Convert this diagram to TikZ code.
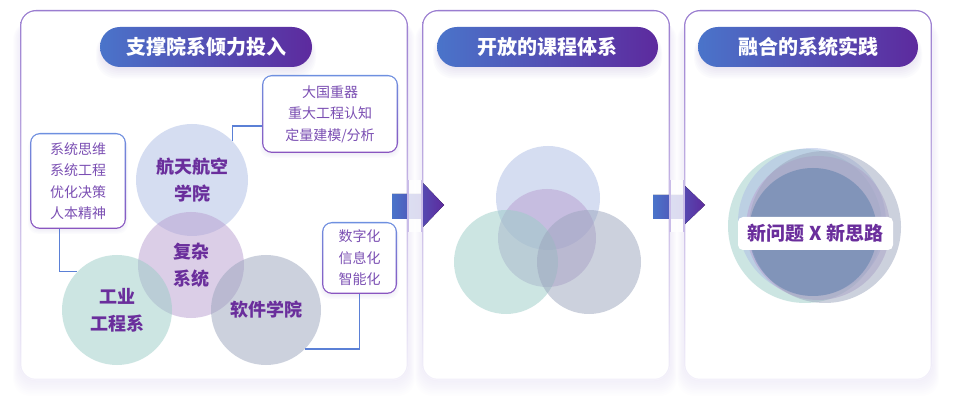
\documentclass[tikz,border=0pt]{standalone}
\usepackage{fontspec}
\setmainfont{Noto Sans CJK SC}
\usetikzlibrary{calc}
\definecolor{tblue}{HTML}{4A74CA}
\definecolor{tpurp}{HTML}{5D2A9E}
\definecolor{lblue}{HTML}{5B80D6}
\definecolor{txtp}{HTML}{6A2E9C}
\definecolor{boxtxt}{HTML}{7B4FB3}
\definecolor{pbtop}{HTML}{9A7DD0}
\definecolor{pbbot}{HTML}{F3F1FA}
\definecolor{bxtop}{HTML}{6E90E0}
\definecolor{bxbot}{HTML}{8A55C0}
\definecolor{shcol}{HTML}{B4A6DC}
\definecolor{pillsh}{HTML}{9A80D0}
\definecolor{midb}{HTML}{C9BCE8}
\definecolor{cA}{HTML}{ADBDE5}
\definecolor{cB}{HTML}{B99FD1}
\definecolor{cT}{HTML}{9BCDC7}
\definecolor{cG}{HTML}{9BA5BD}
\definecolor{coreC}{HTML}{5A7DAA}
\tikzset{
  gframe/.style n args={4}{rounded corners=#3, inner sep=0pt, outer sep=0pt, fill=white,
    path picture={
      \shade[top color=#1, bottom color=#2] (path picture bounding box.south west) rectangle (path picture bounding box.north east);
      \fill[white, rounded corners=#4] ([xshift=1.3pt,yshift=1.3pt]path picture bounding box.south west) rectangle ([xshift=-1.3pt,yshift=-1.3pt]path picture bounding box.north east);
    }},
  panel/.style={gframe={pbtop}{pbbot}{16pt}{14.7pt}, minimum height=370pt},
  gbox/.style={gframe={bxtop}{bxbot}{10pt}{8.7pt}, align=center, text=boxtxt,
    font=\fontsize{14pt}{21.5pt}\selectfont},
  pill/.style={rounded corners=20pt, minimum height=40pt, inner sep=0pt,
    left color=tblue, right color=tpurp, text=white,
    font=\fontsize{20pt}{20pt}\selectfont\bfseries},
  circ/.style={circle, inner sep=0pt, fill=#1, fill opacity=0.5, text opacity=1,
    align=center, text=txtp, font=\fontsize{18pt}{27pt}\selectfont\bfseries},
  conn/.style={draw=lblue, line width=1.3pt},
  barrow/.style={left color=tblue, right color=tpurp},
}
\begin{document}
\begin{tikzpicture}[x=1pt,y=-1pt]
\useasboundingbox (0,0) rectangle (960,411);
% panel shadows
\foreach \xa/\xb in {20/408, 422/670, 684/932}{
  \foreach \s in {1,...,10}{
    \fill[shcol, fill opacity=0.02, rounded corners=17pt] (\xa-0.7*\s, 22) rectangle (\xb+0.7*\s, 378+1.8*\s);
  }}
% panels
\node[panel, minimum width=388pt] (P1) at (214,195) {};
\node[panel, minimum width=248pt] (P2) at (546,195) {};
\node[panel, minimum width=248pt] (P3) at (808,195) {};
% pill glows
\foreach \xa/\xb in {100/312, 437/658, 698/918}{
  \foreach \s in {1,...,8}{
    \fill[pillsh, fill opacity=0.03, rounded corners=20pt] (\xa+4-\s, 32) rectangle (\xb-4+\s, 64+1.8*\s);
  }}
\node[pill, minimum width=212pt] (T1) at (206,47) {支撑院系倾力投入};
\node[pill, minimum width=221pt] (T2) at (547.5,47) {开放的课程体系};
\node[pill, minimum width=220pt] (T3) at (808,47) {融合的系统实践};
% panel 1 circles
\node[circ=cA, minimum size=112pt] (aa) at (192,180) {航天航空\\学院};
\node[circ=cB, minimum size=106pt] (fz) at (191,265) {复杂\\系统};
\node[circ=cT, minimum size=110pt] (ie) at (117,310) {工业\\工程系};
\node[circ=cG, minimum size=110pt] (sw) at (266,310) {软件学院};
% boxes
\foreach \xa/\ya/\xb/\yb in {30/133/126/229, 262/75/398/153, 322/222/397/294}{
  \foreach \s in {1,...,4}{
    \fill[pillsh, fill opacity=0.03, rounded corners=10pt] (\xa+2-\s, \ya+4) rectangle (\xb-2+\s, \yb+1.2*\s);
  }}
\node[gbox, minimum width=96pt, minimum height=96pt] (lbox) at (78,181) {系统思维\\系统工程\\优化决策\\人本精神};
\node[gbox, minimum width=136pt, minimum height=78pt] (trbox) at (330,114) {大国重器\\重大工程认知\\定量建模/分析};
\node[gbox, minimum width=75pt, minimum height=72pt] (rbox) at (359.5,258) {数字化\\信息化\\智能化};
% connectors
\draw[conn] ([xshift=-18.5pt]lbox.south) |- (ie.136);
\draw[conn] ([yshift=-12pt]trbox.west) -| (aa.44);
\draw[conn] (rbox.south) |- (sw.-45);
% panel 2 circles
\node[circ=cA, minimum size=104pt] (q1) at (548,198) {};
\node[circ=cB, minimum size=98pt] (q2) at (547,238) {};
\node[circ=cT, minimum size=104pt] (q3) at (506,262) {};
\node[circ=cG, minimum size=104pt] (q4) at (589,262) {};
% panel 3 circles
\node[circ=cT, minimum size=154pt] (r1) at (805,226) {};
\node[circ=cA, minimum size=148pt] (r2) at (812,222) {};
\node[circ=cB, minimum size=144pt] (r3) at (818,228) {};
\node[circ=cG, minimum size=152pt] (r4) at (825,227) {};
\node[circ=coreC, minimum size=128pt] (r5) at (813,232) {};
\node[fill=white, rounded corners=5pt, minimum width=155pt, minimum height=33pt, inner sep=0pt,
  text=txtp, font=\fontsize{19pt}{19pt}\selectfont\bfseries] (nq) at (815.5,233.5) {新问题 X 新思路};
% arrows
\fill[barrow] (392,194) -- (423,194) -- (423,183) -- (444,205) -- (423,227) -- (423,219) -- (392,219) -- cycle;
\fill[barrow] (653,195) -- (683,195) -- (683,184) -- (705,205) -- (683,226) -- (683,219) -- (653,219) -- cycle;
% gap overlays
\fill[white, fill opacity=0.8] (408.6,180) rectangle (421.4,232);
\fill[white, fill opacity=0.8] (670.6,180) rectangle (683.4,232);
\draw[midb, line width=1.2pt] (408,180) -- (408,232) (422,180) -- (422,232) (670,180) -- (670,232) (684,180) -- (684,232);
\end{tikzpicture}
\end{document}
